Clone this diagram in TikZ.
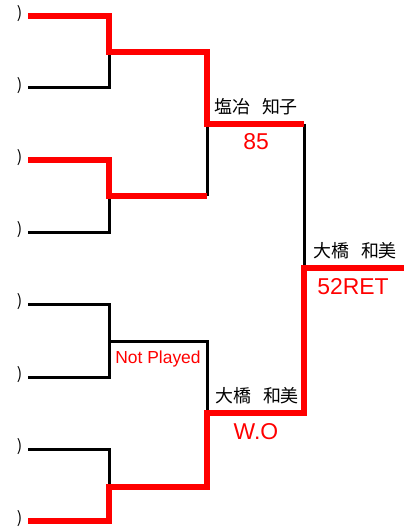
\documentclass[tikz,border=0pt]{standalone}
\usepackage{fontspec}
\setmainfont{Liberation Sans}
\newfontfamily\jpfont{Noto Sans CJK JP}
\newcommand{\jgap}{\hspace{12bp}}
\begin{document}
\begin{tikzpicture}[x=1bp,y=-1bp,
  win/.style={draw=red,line width=5.5bp,line join=miter,line cap=butt},
  lose/.style={draw=black,line width=3bp,line join=miter,line cap=butt},
  pname/.style={inner sep=0pt,font=\jpfont\fontsize{18}{20}\selectfont},
  score/.style={inner sep=0pt,text=red,font=\fontsize{23}{25}\selectfont},
  note/.style={inner sep=0pt,text=red,font=\fontsize{17.5}{19}\selectfont},
  paren/.style={inner sep=0pt,font=\jpfont\fontsize{16}{18}\selectfont}]
\useasboundingbox (0,0) rectangle (404,529);
% entrant line starts
\coordinate (e1) at (28,16);
\coordinate (e2) at (28,88);
\coordinate (e3) at (28,160);
\coordinate (e4) at (28,232);
\coordinate (e5) at (28,304);
\coordinate (e6) at (28,377);
\coordinate (e7) at (28,449);
\coordinate (e8) at (28,521);
% first round junctions
\coordinate (a1) at (109,52);
\coordinate (a2) at (109,196);
\coordinate (a3) at (109,341);
\coordinate (a4) at (109,487);
\coordinate (m2) at (207,196);
\coordinate (m4) at (207,487);
% semifinal junctions
\coordinate (b1) at (207,124);
\coordinate (b2) at (207,413);
\coordinate (t1) at (304,124);
\coordinate (t2) at (304,413);
% final
\coordinate (f) at (304,268);
\coordinate (w) at (404,268);
% parentheses
\foreach \i/\y in {1/14,2/86,3/158,4/230,5/302,6/375,7/447,8/519}
  \node[paren] (p\i) at (19.5,\y) {)};
% losing lines
\draw[lose] (e2) -| (a1);
\draw[lose] (e4) -| (a2);
\draw[lose] (m2) -- (b1);
\draw[lose] (t1) -- (f);
\draw[lose] (e5) -| (a3);
\draw[lose] (e6) -| (a3);
\draw[lose] (a3) -| (b2);
\draw[lose] (e7) -| (a4);
% winning lines
\draw[win] (e1) -| (a1) -| (b1) -- (t1);
\draw[win] (e3) -| (a2) -- (m2);
\draw[win] (e8) -| (a4) -- (m4) -- (b2) -- (t2) -- (f) -- (w);
% labels
\node[pname] (n1) at (256,107) {塩冶\jgap 知子};
\node[score] (s1) at (256,142) {85};
\node[pname] (n2) at (355,251) {大橋\jgap 和美};
\node[score] (s2) at (353,287) {52RET};
\node[note] (np) at (158,359) {Not Played};
\node[pname] (n3) at (257,396) {大橋\jgap 和美};
\node[score] (s3) at (256,432) {W.O};
\end{tikzpicture}
\end{document}
